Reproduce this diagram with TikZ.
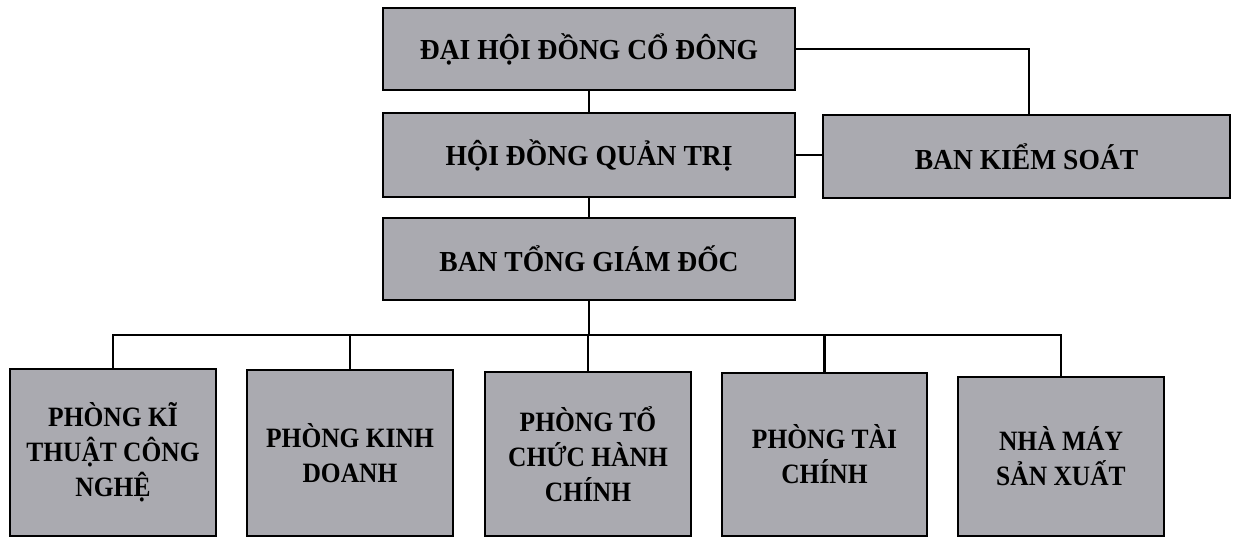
\documentclass[tikz,border=0pt]{standalone}
\usepackage{fontspec}
\setmainfont{Liberation Serif}
\newfontfamily\topfont[FakeStretch=0.95]{Liberation Serif}
\newfontfamily\lowfont[FakeStretch=0.91]{Liberation Serif}
\definecolor{boxfill}{RGB}{170,170,176}
\begin{document}
\begin{tikzpicture}[x=1pt,y=-1pt,
  orgbox/.style={draw=black, fill=boxfill, line width=2.8pt, inner sep=0pt, align=center,
    font=\topfont\fontsize{29}{35}\selectfont\bfseries, text=black},
  lowbox/.style={orgbox, font=\lowfont\fontsize{28}{35}\selectfont\bfseries},
  link/.style={draw=black, line width=2.8pt}]
\useasboundingbox (0,0) rectangle (1233,539);
\node[orgbox, minimum width=412pt, minimum height=82pt] (dh) at (589,49) {ĐẠI HỘI ĐỒNG CỔ ĐÔNG};
\node[orgbox, minimum width=412pt, minimum height=84pt] (hd) at (589,155) {HỘI ĐỒNG QUẢN TRỊ};
\node[orgbox, minimum width=407pt, minimum height=83pt] (bks) at (1026.5,156.5) {BAN KIỂM SOÁT};
\node[orgbox, minimum width=412pt, minimum height=82pt] (bt) at (589,259) {BAN TỔNG GIÁM ĐỐC};
\node[lowbox, minimum width=206pt, minimum height=167pt] (p1) at (113,452.5) {PHÒNG KĨ\\THUẬT CÔNG\\NGHỆ};
\node[lowbox, minimum width=206pt, minimum height=166pt] (p2) at (350,453) {PHÒNG KINH\\DOANH};
\node[lowbox, minimum width=206pt, minimum height=164pt] (p3) at (588,454) {PHÒNG TỔ\\CHỨC HÀNH\\CHÍNH};
\node[lowbox, minimum width=205pt, minimum height=163pt] (p4) at (824.5,454.5) {PHÒNG TÀI\\CHÍNH};
\node[lowbox, minimum width=206pt, minimum height=159pt] (p5) at (1061,456.5) {NHÀ MÁY\\SẢN XUẤT};
\coordinate (bus) at (589,335);
\draw[link] (dh.south) -- (hd.north);
\draw[link] (hd.south) -- (bt.north);
\draw[link] (hd.east) -- (hd.east -| bks.west);
\draw[link] (dh.east) -| ([xshift=2.5pt]bks.north);
\draw[link] (bt.south) -- (bus);
\draw[link] (p1.north) |- (bus) -| (p5.north);
\draw[link] (p2.north) -- (p2.north |- bus);
\draw[link] (p3.north) -- (p3.north |- bus);
\draw[link] (p4.north) -- (p4.north |- bus);
\end{tikzpicture}
\end{document}
